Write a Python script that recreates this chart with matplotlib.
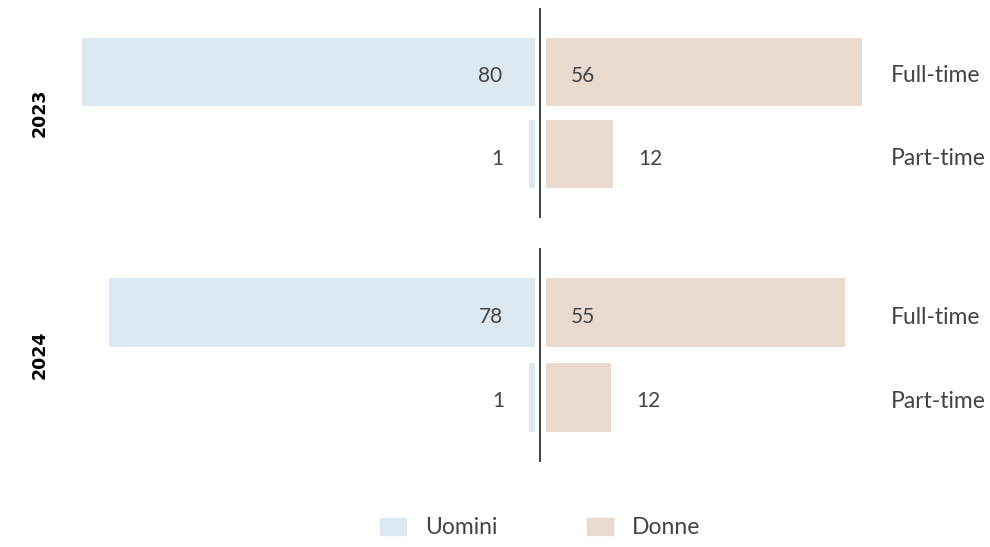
import matplotlib.pyplot as plt
from matplotlib.patches import Patch

anni = ['2023', '2024']
tipi = ['Full-time', 'Part-time']
uomini = {'2023': [80, 1], '2024': [78, 1]}
donne = {'2023': [56, 12], '2024': [55, 12]}

col_u = '#dde9f2'
col_d = '#ead9cf'
col_txt = '#444444'
font = 'Lato'

W, H = 990, 547
fig = plt.figure(figsize=(W / 100, H / 100), dpi=100)

# pannelli: (top px, bottom px, px per unità)
pannelli = {'2023': (8, 218, 5.66), '2024': (248, 462, 5.45)}
centro = 540
gap_px = 5.5
dy = -3.0  # piccolo abbassamento dei testi
fs_num = 15

for anno in anni:
    top, bot, scala = pannelli[anno]
    ax = fig.add_axes([0, 1 - bot / H, 1, (bot - top) / H])
    ax.set_xlim(-centro / scala, (W - centro) / scala)
    ax.set_ylim(1.77, -0.77)
    ax.axis('off')
    gap = gap_px / scala
    y = list(range(len(tipi)))
    ax.barh(y, [-v for v in uomini[anno]], left=-gap, height=0.82, color=col_u)
    ax.barh(y, donne[anno], left=gap, height=0.82, color=col_d)
    ax.axvline(0, color='#333333', lw=1.3)

    for i, t in enumerate(tipi):
        vu = uomini[anno][i]
        vd = donne[anno][i]
        # uomini
        if vu > 20:
            ax.annotate(str(vu), (-gap, i), xytext=(-23, dy), textcoords='offset points',
                        ha='right', va='center', fontsize=fs_num, color=col_txt, family=font)
        else:
            ax.annotate(str(vu), (-gap - vu, i), xytext=(-18, dy), textcoords='offset points',
                        ha='right', va='center', fontsize=fs_num, color=col_txt, family=font)
        # donne
        if vd > 20:
            ax.annotate(str(vd), (gap, i), xytext=(18, dy), textcoords='offset points',
                        ha='left', va='center', fontsize=fs_num, color=col_txt, family=font)
        else:
            ax.annotate(str(vd), (gap + vd, i), xytext=(18, dy), textcoords='offset points',
                        ha='left', va='center', fontsize=fs_num, color=col_txt, family=font)
        ax.annotate(t, (891 / W, i), xycoords=ax.get_yaxis_transform(), xytext=(0, dy),
                    textcoords='offset points', ha='left', va='center',
                    fontsize=16.5, color=col_txt, family=font)

    fig.text(40 / W, 1 - (top + bot) / 2 / H, anno, rotation=90, ha='center', va='center',
             fontsize=12.5, fontweight='bold', color='black', family='DejaVu Sans')

handles = [Patch(color=col_u, label='Uomini'), Patch(color=col_d, label='Donne')]
leg = fig.legend(handles=handles, loc='center', bbox_to_anchor=(540 / W, 1 - 528 / H), ncol=2,
                 frameon=False, handlelength=1.13, handleheight=0.7, handletextpad=0.83,
                 columnspacing=3.9, prop={'family': font, 'size': 16.5})
for t in leg.get_texts():
    t.set_color(col_txt)

fig.savefig('out.png', dpi=100)
